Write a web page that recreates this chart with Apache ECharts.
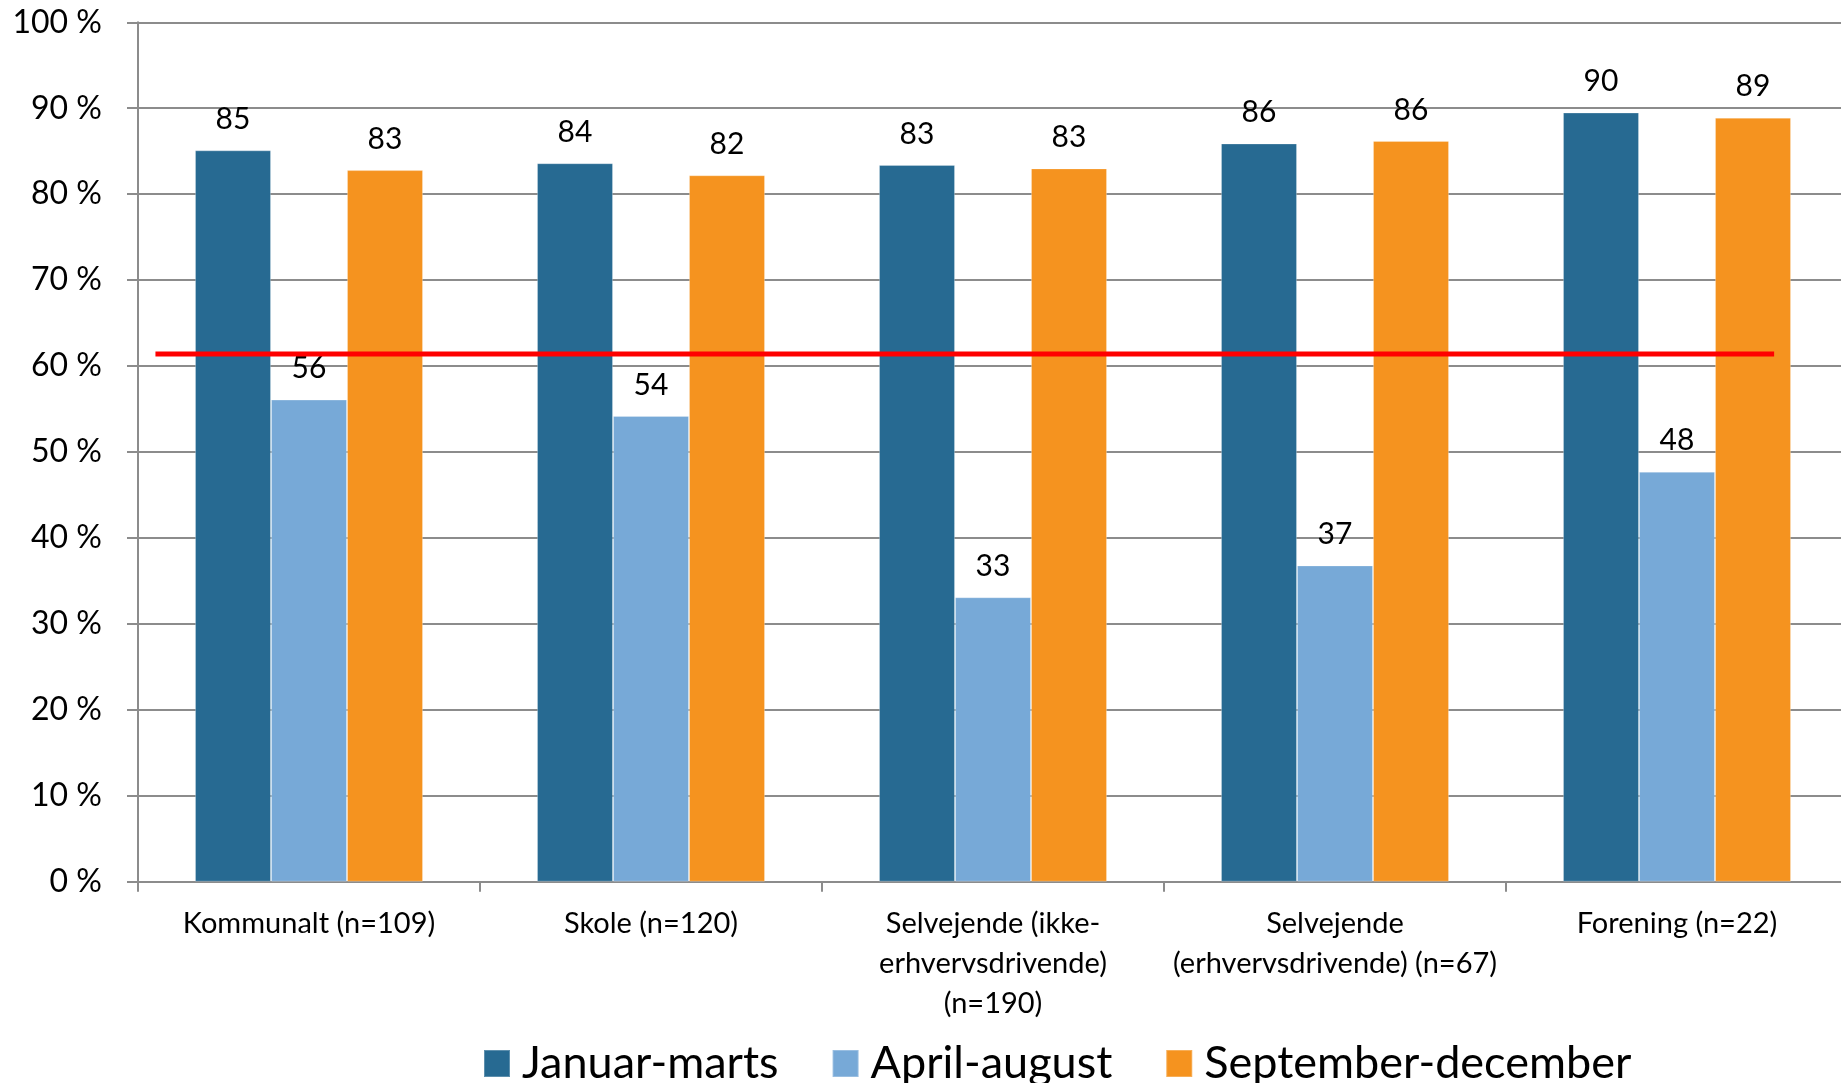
<!DOCTYPE html>
<html>
<head>
<meta charset="utf-8">
<script src="https://cdn.jsdelivr.net/npm/echarts@6/dist/echarts.min.js"></script>
<style>
html,body{margin:0;padding:0;background:#fff;overflow:hidden;width:1841px;height:1083px;}
#chart{width:1848px;height:1083px;}
</style>
</head>
<body>
<div id="chart"></div>
<script>
const categories = [
  'Kommunalt (n=109)',
  'Skole (n=120)',
  'Selvejende (ikke-\nerhvervsdrivende)\n(n=190)',
  'Selvejende\n(erhvervsdrivende) (n=67)',
  'Forening (n=22)'
];
const seriesNames = ['Januar-marts', 'April-august', 'September-december'];
const januarMarts = [85.1, 83.6, 83.4, 85.9, 89.5];
const aprilAugust = [56.1, 54.2, 33.1, 36.8, 47.7];
const septemberDecember = [82.8, 82.2, 83.0, 86.2, 88.9];
const referenceLevel = 61.4;
const referenceSpan = [-0.449, 4.284];
const yTicks = [0, 10, 20, 30, 40, 50, 60, 70, 80, 90, 100];

const colors = ['#276A92', '#77A9D7', '#F5931F'];
const FONT = 'Lato, "Open Sans", sans-serif';

const chart = echarts.init(document.getElementById('chart'), null, {renderer: 'canvas'});

function barSeries(name, data, color) {
  return {
    name: name,
    type: 'bar',
    data: data,
    barWidth: 76,
    barGap: '0%',
    itemStyle: {color: color, borderColor: 'rgba(255,255,255,0.25)', borderWidth: 1},
    label: {
      show: true,
      position: 'top',
      distance: 16,
      fontFamily: FONT,
      fontSize: 30,
      color: '#000',
      formatter: p => Math.round(p.value)
    },
    z: 2
  };
}

const option = {
  backgroundColor: '#fff',
  animation: false,
  grid: {left: 138, right: 0, top: 22.3, bottom: 201.3, containLabel: false},
  legend: {
    left: 478,
    top: 1036,
    itemWidth: 26,
    itemHeight: 27,
    itemGap: 53,
    icon: 'rect',
    textStyle: {fontFamily: FONT, fontSize: 45, lineHeight: 45, color: '#000', padding: [0, 0, 0, 7]},
    data: seriesNames
  },
  xAxis: [{
    type: 'category',
    data: categories,
    axisLine: {show: true, onZero: false, lineStyle: {color: '#8C8C8C', width: 2}},
    axisTick: {show: true, length: 10, lineStyle: {color: '#8C8C8C', width: 2}},
    axisLabel: {
      interval: 0,
      margin: 22,
      fontFamily: FONT,
      fontSize: 29,
      lineHeight: 40,
      color: '#000'
    },
    splitLine: {show: false}
  }, {
    type: 'value',
    min: -0.5,
    max: 4.5,
    show: false,
    position: 'bottom',
    axisLine: {show: false, onZero: false},
    splitLine: {show: false}
  }],
  yAxis: {
    type: 'value',
    min: 0,
    max: 100,
    interval: 10,
    axisLine: {show: true, onZero: false, lineStyle: {color: '#8C8C8C', width: 2}},
    axisTick: {show: true, length: 11, lineStyle: {color: '#8C8C8C', width: 2}},
    axisLabel: {
      margin: 36,
      fontFamily: FONT,
      fontSize: 32,
      color: '#000',
      formatter: v => yTicks.includes(v) ? v + ' %' : ''
    },
    splitLine: {show: true, lineStyle: {color: '#8C8C8C', width: 2}}
  },
  series: [
    barSeries(seriesNames[0], januarMarts, colors[0]),
    barSeries(seriesNames[1], aprilAugust, colors[1]),
    barSeries(seriesNames[2], septemberDecember, colors[2]),
    {
      name: 'ref',
      type: 'line',
      xAxisIndex: 1,
      data: referenceSpan.map(x => [x, referenceLevel]),
      symbol: 'none',
      lineStyle: {color: '#FF0000', width: 5},
      z: 5,
      silent: true
    }
  ]
};
chart.setOption(option);
</script>
</body>
</html>
